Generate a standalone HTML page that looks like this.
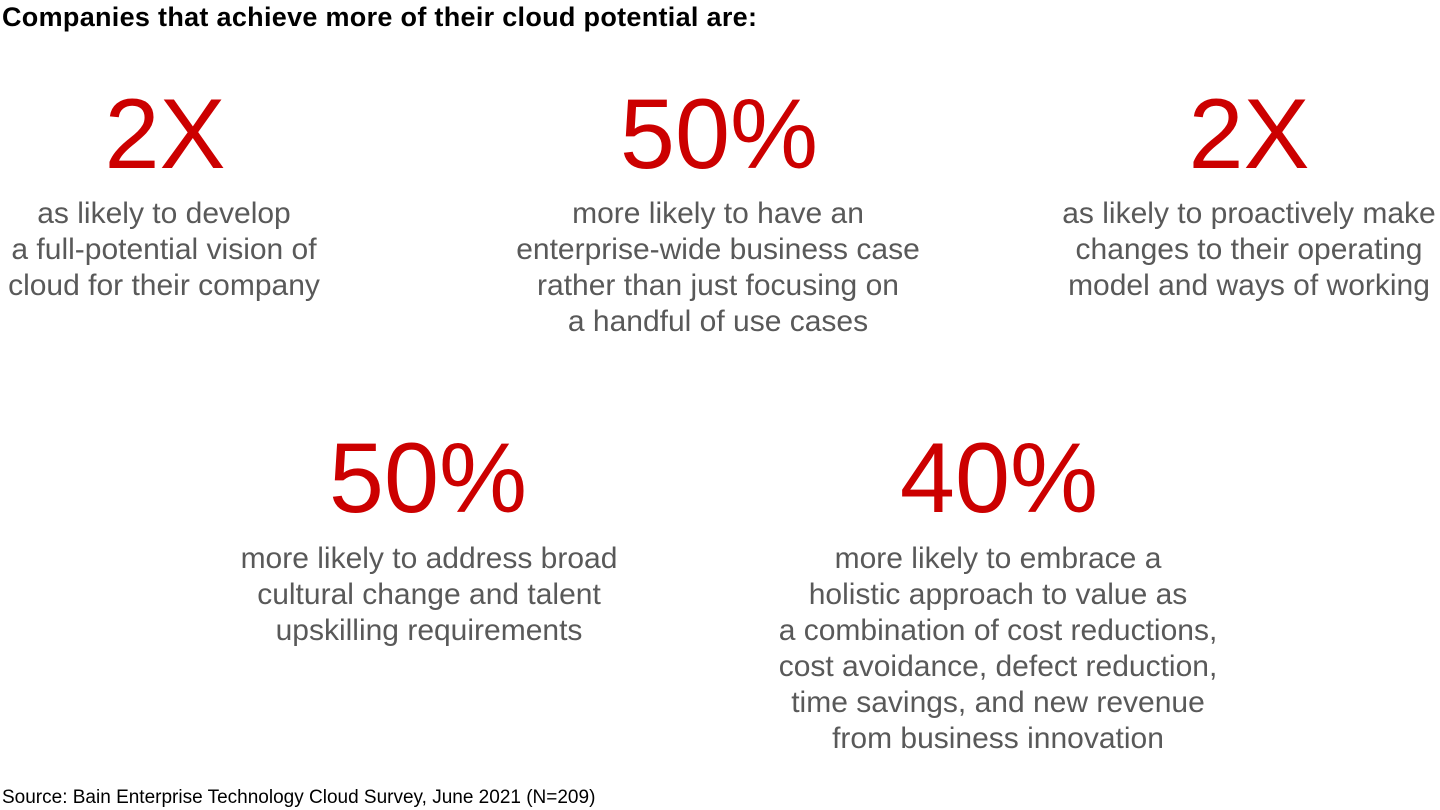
<!DOCTYPE html>
<html><head><meta charset="utf-8"><style>
body{margin:0;width:1440px;height:810px;background:#fff;position:relative;overflow:hidden;font-family:"Liberation Sans",Arial,sans-serif}
.big{position:absolute;width:600px;text-align:center;color:#cc0000;font-size:99px;line-height:1;white-space:nowrap}
.txt{position:absolute;width:600px;text-align:center;color:#595959;font-size:30px;line-height:36px;white-space:nowrap}
</style></head><body>
<div style="position:absolute;left:2px;top:4px;font-size:27px;letter-spacing:0.3px;font-weight:bold;line-height:1;color:#000">Companies that achieve more of their cloud potential are:</div>

<div class="big" style="left:-135px;top:84px">2X</div>
<div class="txt" style="left:-136px;top:196px">as likely to develop<br>a full-potential vision of<br>cloud for their company</div>

<div class="big" style="left:419px;top:84px">50%</div>
<div class="txt" style="left:418px;top:196px">more likely to have an<br>enterprise-wide business case<br>rather than just focusing on<br>a handful of use cases</div>

<div class="big" style="left:949px;top:84px">2X</div>
<div class="txt" style="left:949px;top:196px">as likely to proactively make<br>changes to their operating<br>model and ways of working</div>

<div class="big" style="left:128px;top:428px">50%</div>
<div class="txt" style="left:129px;top:541px">more likely to address broad<br>cultural change and talent<br>upskilling requirements</div>

<div class="big" style="left:699px;top:428px">40%</div>
<div class="txt" style="left:698px;top:541px">more likely to embrace a<br>holistic approach to value as<br>a combination of cost reductions,<br>cost avoidance, defect reduction,<br>time savings, and new revenue<br>from business innovation</div>

<div style="position:absolute;left:2px;top:788px;font-size:19px;line-height:1;color:#000">Source: Bain Enterprise Technology Cloud Survey, June 2021 (N=209)</div>
</body></html>
